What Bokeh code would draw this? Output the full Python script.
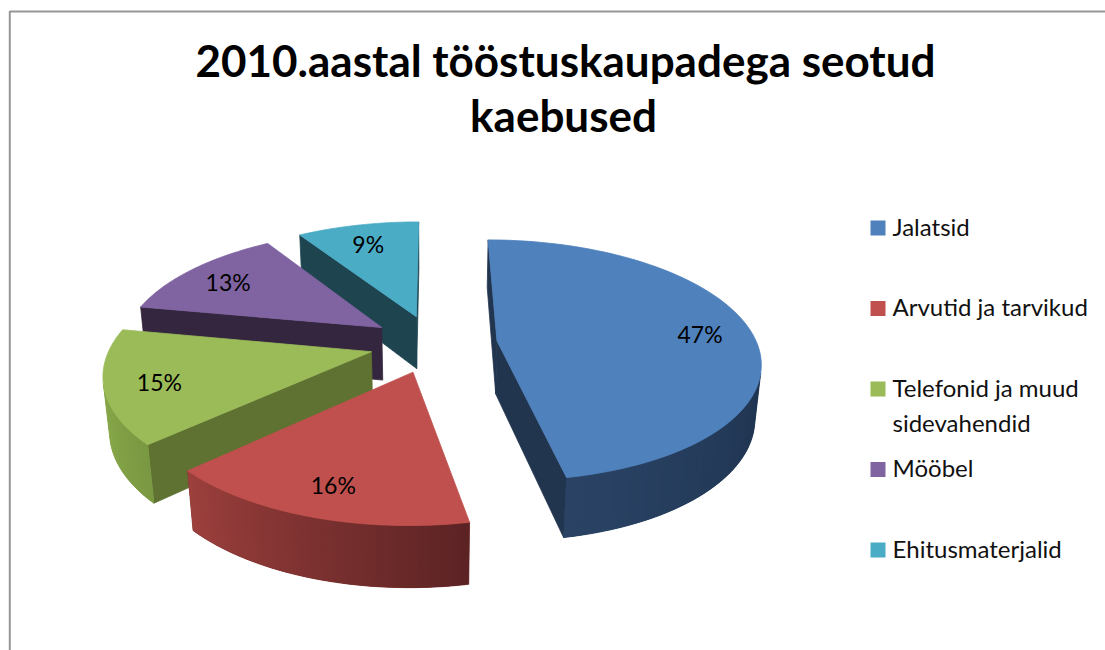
import numpy as np
from bokeh.plotting import figure
from bokeh.models import ColumnDataSource, Range1d
from bokeh.core.properties import value
from bokeh.embed import file_html
from bokeh.resources import INLINE

# ---------------- data ----------------
categories = ["Jalatsid", "Arvutid ja tarvikud", "Telefonid ja muud sidevahendid",
              "Mööbel", "Ehitusmaterjalid"]
legend_lines = [["Jalatsid"], ["Arvutid ja tarvikud"], ["Telefonid ja muud", "sidevahendid"],
                ["Mööbel"], ["Ehitusmaterjalid"]]
shares = [47, 16, 15, 13, 9]
title_lines = ["2010.aastal tööstuskaupadega seotud", "kaebused"]

# ---------------- styles ----------------
top_colors = ["#4F81BD", "#C0504D", "#9BBB59", "#8064A2", "#4BACC6"]
radial_colors = ["#22354F", "#6E2A28", "#5F7232", "#35263F", "#1E4450"]
rim_left = ["#2A4365", "#9D403D", "#8AAA4C", "#5E4A78", "#2A7486"]
rim_right = ["#1F3450", "#5C2324", "#7A9842", "#4A3A60", "#1E4450"]

W, H = 1105, 650
CX, CY = 433.0, 343.0
S = 260.0
D = 5.5
PHI = np.radians(27)
DEPTH = 0.235
EXPLODE = 0.246
LABEL_R = 0.8
NSEG = 90
FONT = "Lato"


def proj(X, Y, Z):
    X = np.asarray(X, float); Y = np.asarray(Y, float); Z = np.asarray(Z, float)
    yc = Y * np.sin(PHI) + Z * np.cos(PHI)
    zc = D + Y * np.cos(PHI) - Z * np.sin(PHI)
    return CX + S * D * X / zc, CY - S * D * yc / zc


CAM = np.array([0.0, -D * np.cos(PHI), D * np.sin(PHI)])


def visible(normal, point):
    return float(np.dot(normal, CAM - point)) > 0


def hex2rgb(h):
    h = h.lstrip("#")
    return np.array([int(h[i:i + 2], 16) for i in (0, 2, 4)], float)


def mix(c1, c2, f):
    c = hex2rgb(c1) * (1 - f) + hex2rgb(c2) * f
    return "#%02x%02x%02x" % tuple(int(round(v)) for v in c)


total = float(sum(shares))
bounds = np.concatenate([[0.0], np.cumsum(shares) / total * 360.0])

slices = []
for i in range(len(shares)):
    a0, a1 = bounds[i], bounds[i + 1]
    am = np.radians((a0 + a1) / 2)
    ox, oy = EXPLODE * np.sin(am), EXPLODE * np.cos(am)
    zc_apex = D + oy * np.cos(PHI)
    slices.append((zc_apex, i, a0, a1, ox, oy, am))

# farthest first
slices.sort(key=lambda s: -s[0])

xs, ys, cols, lcols = [], [], [], []
lab_x, lab_y, lab_t = [], [], []


def add(sx, sy, col, lcol=None):
    xs.append([float(v) for v in sx]); ys.append([float(v) for v in sy])
    cols.append(col); lcols.append(lcol if lcol is not None else col)


for zc_apex, i, a0, a1, ox, oy, am in slices:
    t = np.radians(np.linspace(a0, a1, NSEG + 1))
    rx = ox + np.sin(t)
    ry = oy + np.cos(t)
    side = []
    r0, r1 = np.radians(a0), np.radians(a1)
    n0 = np.array([-np.cos(r0), np.sin(r0), 0.0])
    p0 = np.array([ox + 0.5 * np.sin(r0), oy + 0.5 * np.cos(r0), -DEPTH / 2])
    if visible(n0, p0):
        side.append((D + p0[1] * np.cos(PHI),
                     [ox, rx[0], rx[0], ox], [oy, ry[0], ry[0], oy],
                     [0, 0, -DEPTH, -DEPTH], radial_colors[i]))
    n1 = np.array([np.cos(r1), -np.sin(r1), 0.0])
    p1 = np.array([ox + 0.5 * np.sin(r1), oy + 0.5 * np.cos(r1), -DEPTH / 2])
    if visible(n1, p1):
        side.append((D + p1[1] * np.cos(PHI),
                     [ox, ox, rx[-1], rx[-1]], [oy, oy, ry[-1], ry[-1]],
                     [0, -DEPTH, -DEPTH, 0], radial_colors[i]))
    side.sort(key=lambda s: -s[0])
    for _, X, Y, Z, col in side:
        sx, sy = proj(X, Y, Z)
        add(sx, sy, col)
    # outer rim: base band, then overlapping gradient strips (right to left)
    vis = []
    for k in range(NSEG):
        tm = (t[k] + t[k + 1]) / 2
        n = np.array([np.sin(tm), np.cos(tm), 0.0])
        pt = np.array([ox + np.sin(tm), oy + np.cos(tm), -DEPTH / 2])
        if visible(n, pt):
            vis.append(k)
    if vis:
        k0, k1 = vis[0], vis[-1] + 1
        bx = np.concatenate([rx[k0:k1 + 1], rx[k0:k1 + 1][::-1]])
        by = np.concatenate([ry[k0:k1 + 1], ry[k0:k1 + 1][::-1]])
        bz = np.concatenate([np.zeros(k1 - k0 + 1), -DEPTH * np.ones(k1 - k0 + 1)])
        sx, sy = proj(bx, by, bz)
        add(sx, sy, mix(rim_left[i], rim_right[i], 0.5))
        tmin, tmax = t[k0], t[k1]
        for k in vis:
            kk = min(k + 2, k1)
            tm = (t[k] + t[k + 1]) / 2
            f = 0.5 if tmax == tmin else (tmax - tm) / (tmax - tmin)
            col = mix(rim_left[i], rim_right[i], f)
            sx, sy = proj([rx[k], rx[kk], rx[kk], rx[k]],
                          [ry[k], ry[kk], ry[kk], ry[k]],
                          [0, 0, -DEPTH, -DEPTH])
            add(sx, sy, col, "rgba(0,0,0,0)")
    # top face
    TX = np.concatenate([[ox], rx])
    TY = np.concatenate([[oy], ry])
    sx, sy = proj(TX, TY, np.zeros_like(TX))
    add(sx, sy, top_colors[i])
    lx, ly = proj(ox + LABEL_R * np.sin(am), oy + LABEL_R * np.cos(am), 0.0)
    lab_x.append(float(lx)); lab_y.append(float(ly) + 2); lab_t.append("%d%%" % shares[i])

p = figure(width=W, height=H, output_backend="svg", toolbar_location=None,
           x_range=Range1d(0, W), y_range=Range1d(H, 0),
           x_axis_type=None, y_axis_type=None, min_border=0)
p.grid.visible = False
p.outline_line_color = None
p.background_fill_color = "white"
p.border_fill_color = "white"

# chart frame
p.line(x=[9.3, 9.3, W + 2], y=[H + 2, 11, 11], line_color="#969696", line_width=2)

src = ColumnDataSource(dict(xs=xs, ys=ys, c=cols, lc=lcols))
p.patches(xs="xs", ys="ys", fill_color="c", line_color="lc", line_width=0.8, source=src)

p.text(x=lab_x, y=lab_y, text=lab_t, text_font=value(FONT), text_font_size="23px",
       text_align="center", text_baseline="middle", text_color="black")

# title
p.text(x=[565, 563], y=[59, 114], text=title_lines, text_font=value(FONT),
       text_font_size="44px", text_font_style="bold", text_align="center",
       text_baseline="middle", text_color="black")

# legend
ly0, lstep = 227.5, 80.5
sq_y = [ly0 + lstep * k for k in range(len(categories))]
p.scatter(x=[877.5] * len(categories), y=sq_y, marker="square", size=15,
          fill_color=top_colors, line_color=None)
tx, ty, tt = [], [], []
for k, lines in enumerate(legend_lines):
    for j, line in enumerate(lines):
        tx.append(892); ty.append(sq_y[k] - 2 + 35 * j); tt.append(line)
p.text(x=tx, y=ty, text=tt, text_font=value(FONT), text_font_size="24px",
       text_align="left", text_baseline="middle", text_color="#111111")

open("out.html", "w").write(file_html(p, INLINE))
